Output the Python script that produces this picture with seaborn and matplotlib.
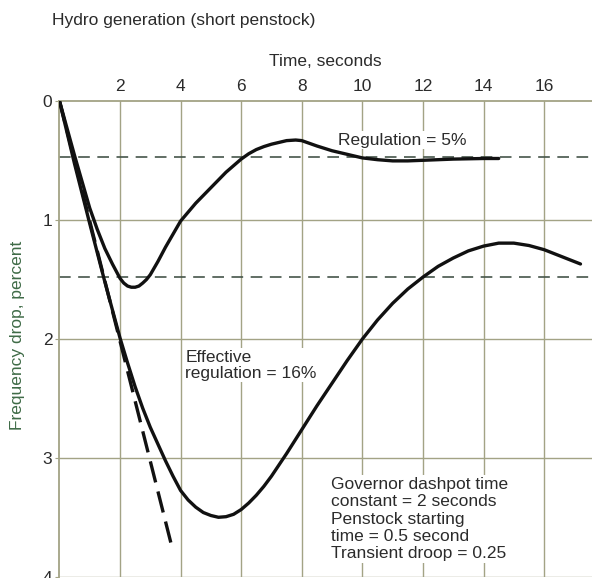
#!/usr/bin/env python3
"""
Hydro generation (short penstock): frequency drop after a load step.
Saves out.png
"""
import numpy as np
import matplotlib
matplotlib.use('Agg')
import matplotlib.pyplot as plt
import seaborn as sns

sns.set_style('white')
plt.rcParams['font.family'] = ['Liberation Sans', 'DejaVu Sans']

# Regulation = 5% curve (time s, drop %)
t_reg = [0, 0.25, 0.5, 0.75, 1.0, 1.25, 1.5, 1.75, 2.0, 2.125, 2.25, 2.375, 2.5, 2.625,
         2.75, 2.875, 3.0, 3.25, 3.5, 3.75, 4.0, 4.5, 5.0, 5.5, 6.0, 6.25, 6.5, 6.75, 7.0,
         7.5, 7.8, 8.0, 8.5, 9.0, 9.5, 10.0, 10.5, 11.0, 11.5, 12.0, 13.0, 14.0, 14.5]
y_reg = [0, 0.23, 0.46, 0.68, 0.90, 1.08, 1.24, 1.37, 1.49, 1.53, 1.555, 1.565, 1.565, 1.555,
         1.53, 1.50, 1.46, 1.35, 1.23, 1.12, 1.01, 0.86, 0.73, 0.60, 0.49, 0.445, 0.41, 0.385, 0.365,
         0.335, 0.33, 0.335, 0.38, 0.42, 0.45, 0.48, 0.495, 0.505, 0.505, 0.50, 0.49, 0.485, 0.485]

# Effective regulation = 16% curve
t_eff = [0, 0.5, 1.0, 1.5, 2.0, 2.25, 2.5, 2.75, 3.0, 3.25, 3.5, 3.75, 4.0, 4.25, 4.5, 4.75,
         5.0, 5.25, 5.5, 5.75, 6.0, 6.25, 6.5, 6.75, 7.0, 7.5, 8.0, 8.5, 9.0, 9.5, 10.0,
         10.5, 11.0, 11.5, 12.0, 12.5, 13.0, 13.5, 14.0, 14.5, 15.0, 15.5, 16.0, 16.5,
         17.0, 17.2]
y_eff = [0, 0.53, 1.03, 1.52, 1.99, 2.2, 2.4, 2.58, 2.74, 2.88, 3.02, 3.15, 3.27, 3.35, 3.41, 3.455,
         3.48, 3.495, 3.49, 3.47, 3.43, 3.375, 3.31, 3.235, 3.15, 2.96, 2.76, 2.56, 2.37, 2.18, 2.0,
         1.84, 1.70, 1.58, 1.48, 1.39, 1.32, 1.26, 1.22, 1.195, 1.195, 1.215, 1.25, 1.30,
         1.35, 1.37]

# initial-slope tangent (no governor action)
t_tan = [0, 3.74]
y_tan = [0, 3.77]

# steady-state levels
steady_levels = [0.47, 1.48]

x_ticks = [2, 4, 6, 8, 10, 12, 14, 16]
y_ticks = [0, 1, 2, 3, 4]

GRID = '#a3a385'
TEXT = '#2b2b2b'

fig = plt.figure(figsize=(5.92, 5.78), dpi=100)
ax = fig.add_axes([59.4 / 592, 0.0009, 1 - 59.4 / 592, 0.8249])

for x in x_ticks:
    ax.axvline(x, color=GRID, lw=1.0, zorder=0)
for y in y_ticks[1:]:
    ax.axhline(y, color=GRID, lw=1.0, zorder=0)
for y in steady_levels:
    ax.axhline(y, color='#46554a', lw=1.2, dashes=(7, 4.5), zorder=1)

sns.lineplot(x=t_reg, y=y_reg, ax=ax, color='#111111', lw=2.4, sort=False, zorder=3)
sns.lineplot(x=t_eff, y=y_eff, ax=ax, color='#111111', lw=2.4, sort=False, zorder=3)
sns.lineplot(x=t_tan, y=y_tan, ax=ax, color='#111111', lw=2.4, sort=False, zorder=2,
             dashes=False).lines[-1].set_dashes((6.5, 2.8))

ax.set_xlim(0, 17.58)
ax.set_ylim(4, 0)
ax.xaxis.tick_top()
ax.xaxis.set_label_position('top')
ax.set_xticks(x_ticks)
ax.set_yticks(y_ticks)
ax.tick_params(axis='x', length=0, pad=5, labelsize=12.5, labelcolor=TEXT)
ax.tick_params(axis='y', length=3, pad=2, labelsize=12.5, labelcolor=TEXT, color=GRID, left=True)
ax.set_xlabel('Time, seconds', fontsize=12.5, color=TEXT, labelpad=9)

for side in ['right', 'bottom']:
    ax.spines[side].set_visible(False)
for side in ['left', 'top']:
    ax.spines[side].set_color(GRID)
    ax.spines[side].set_linewidth(1.3)

box = dict(facecolor='white', edgecolor='none', pad=1)
ax.text(9.2, 0.33, 'Regulation = 5%', fontsize=12.5, color=TEXT,
        ha='left', va='center', bbox=box, zorder=2)
ax.text(4.15, 2.22, 'Effective\nregulation = 16%', fontsize=12.5, color=TEXT,
        ha='left', va='center', linespacing=1.12, bbox=box, zorder=2)
ax.text(8.96, 3.51,
        'Governor dashpot time\nconstant = 2 seconds\nPenstock starting\n'
        'time = 0.5 second\nTransient droop = 0.25',
        fontsize=12.5, color=TEXT, ha='left', va='center', linespacing=1.2,
        bbox=box, zorder=2)

fig.text(52 / 592, 1 - 20 / 578, 'Hydro generation (short penstock)', fontsize=12.5,
         color=TEXT, ha='left', va='center')
fig.text(18 / 592, 1 - 335 / 578, 'Frequency drop, percent', fontsize=12.5,
         color='#3f6b47', rotation=90, ha='center', va='center')

plt.savefig('out.png', dpi=100)
print('Saved out.png')
